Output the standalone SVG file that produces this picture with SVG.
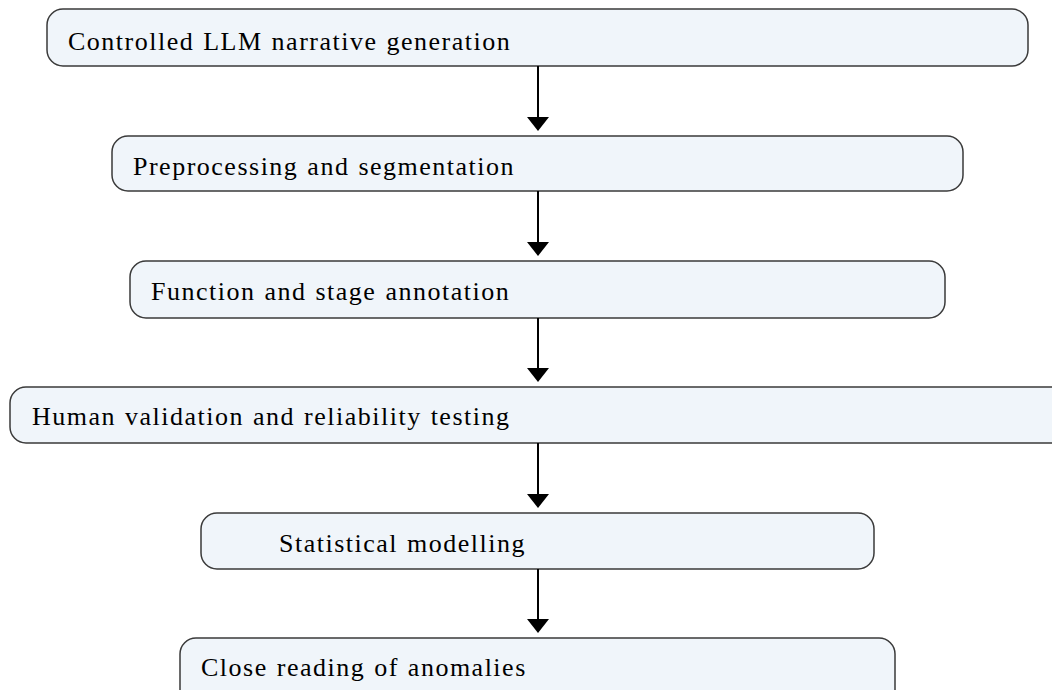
<svg xmlns="http://www.w3.org/2000/svg" width="1052" height="690" viewBox="0 0 1052 690">
<style>
.box{fill:#f0f5fa;stroke:#3a3a3a;stroke-width:1.5}
.lbl{font-family:"Liberation Serif","Times New Roman",serif;font-size:26px;fill:#000;letter-spacing:1.5px;word-spacing:1px}
.conn{stroke:#000;stroke-width:2;fill:none}
.head{fill:#000}
</style>
<rect width="1052" height="690" fill="#fff"/>
<g id="n1"><rect class="box" x="47" y="9" width="981" height="57" rx="16"/><text class="lbl" x="68" y="50">Controlled LLM narrative generation</text></g>
<g id="n2"><rect class="box" x="112" y="136" width="851" height="55" rx="16"/><text class="lbl" x="133" y="175">Preprocessing and segmentation</text></g>
<g id="n3"><rect class="box" x="130" y="261" width="815" height="57" rx="16"/><text class="lbl" x="151" y="300">Function and stage annotation</text></g>
<g id="n4"><rect class="box" x="10" y="387" width="1058" height="56" rx="16"/><text class="lbl" x="32" y="425">Human validation and reliability testing</text></g>
<g id="n5"><rect class="box" x="201" y="513" width="673" height="56" rx="16"/><text class="lbl" x="279" y="552">Statistical modelling</text></g>
<g id="n6"><rect class="box" x="180" y="638" width="715" height="70" rx="16"/><text class="lbl" x="201" y="676">Close reading of anomalies</text></g>
<g id="connectors">
<line class="conn" x1="538" y1="66" x2="538" y2="118"/><polygon class="head" points="527,117 549,117 538,131"/>
<line class="conn" x1="538" y1="191" x2="538" y2="243"/><polygon class="head" points="527,242 549,242 538,256"/>
<line class="conn" x1="538" y1="318" x2="538" y2="369"/><polygon class="head" points="527,368 549,368 538,382"/>
<line class="conn" x1="538" y1="443" x2="538" y2="495"/><polygon class="head" points="527,494 549,494 538,508"/>
<line class="conn" x1="538" y1="569" x2="538" y2="620"/><polygon class="head" points="527,619 549,619 538,633"/>
</g>
</svg>
